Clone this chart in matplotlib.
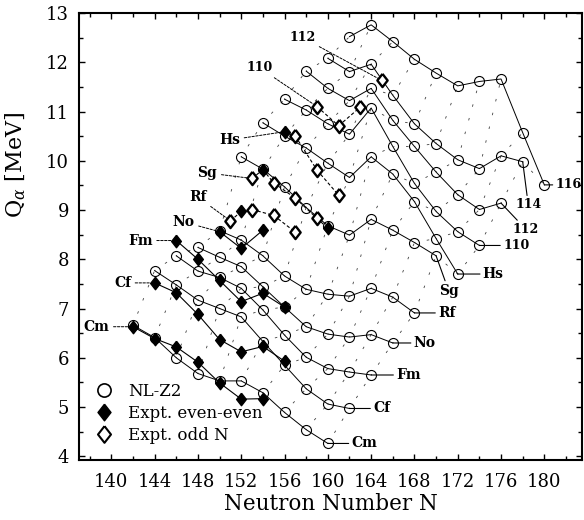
"""Alpha-decay Q values of heavy and superheavy nuclei: NL-Z2 vs experiment."""

import numpy as np
import matplotlib.pyplot as plt
from matplotlib.lines import Line2D

plt.rcParams['font.family'] = 'DejaVu Serif'
plt.rcParams['mathtext.fontset'] = 'dejavuserif'

# ── NL-Z2 Q_alpha (MeV), even N from the first N in steps of 2 ──
names = ['Cm', 'Cf', 'Fm', 'No', 'Rf', 'Sg', 'Hs', '110', '112', '114', '116']
z_list = [96, 98, 100, 102, 104, 106, 108, 110, 112, 114, 116]
n_first = [142, 144, 146, 148, 150, 152, 154, 156, 158, 160, 162]

q_cm = [6.66, 6.41, 6.00, 5.68, 5.53, 5.53, 5.29, 4.89, 4.54, 4.26]
q_cf = [7.77, 7.48, 7.17, 7.00, 6.83, 6.33, 5.85, 5.37, 5.06, 4.97]
q_fm = [8.07, 7.76, 7.63, 7.41, 6.97, 6.46, 6.01, 5.78, 5.71, 5.65]
q_no = [8.24, 8.04, 7.85, 7.44, 7.03, 6.63, 6.48, 6.42, 6.47, 6.30]
q_rf = [8.58, 8.39, 8.07, 7.66, 7.39, 7.29, 7.25, 7.41, 7.23, 6.91]
q_sg = [10.08, 9.83, 9.47, 9.05, 8.68, 8.49, 8.81, 8.59, 8.34, 8.07]
q_hs = [10.77, 10.50, 10.26, 9.95, 9.66, 10.08, 9.73, 9.17, 8.42, 7.70]
q_110 = [11.25, 11.03, 10.75, 10.54, 11.07, 10.29, 9.54, 8.97, 8.56, 8.28]
q_112 = [11.82, 11.47, 11.22, 11.47, 10.82, 10.29, 9.77, 9.31, 9.01, 9.14]
q_114 = [12.08, 11.81, 11.96, 11.33, 10.75, 10.35, 10.02, 9.84, 10.10, 9.98]
q_116 = [12.52, 12.76, 12.42, 12.06, 11.78, 11.52, 11.61, 11.66, 10.57, 9.51]
q_nlz2 = [q_cm, q_cf, q_fm, q_no, q_rf, q_sg, q_hs, q_110, q_112, q_114, q_116]

# ── Experiment, even-even ──
ee_z = [96, 96, 96, 96, 96, 96, 96,
        98, 98, 98, 98, 98, 98, 98,
        100, 100, 100, 100, 100, 100,
        102, 102, 102, 104, 106, 106, 108]
ee_n = [142, 144, 146, 148, 150, 152, 154,
        144, 146, 148, 150, 152, 154, 156,
        146, 148, 150, 152, 154, 156,
        150, 152, 154, 152, 154, 160, 156]
ee_q = [6.63, 6.39, 6.22, 5.91, 5.49, 5.16, 5.17,
        7.52, 7.32, 6.88, 6.37, 6.12, 6.23, 5.93,
        8.38, 8.00, 7.57, 7.14, 7.31, 7.03,
        8.56, 8.22, 8.59, 8.97, 9.82, 8.63, 10.59]

# ── Experiment, odd N ──
odd_z = [104, 104, 104, 104, 106, 106, 106, 106, 108, 108, 108, 110, 110, 110, 112]
odd_n = [151, 153, 155, 157, 153, 155, 157, 159, 157, 159, 161, 159, 161, 163, 165]
odd_q = [8.78, 9.01, 8.89, 8.55, 9.64, 9.55, 9.24, 8.83,
         10.50, 9.81, 9.30, 11.10, 10.71, 11.09, 11.63]

fig, ax = plt.subplots(figsize=(5.84, 5.2), dpi=100)
fig.subplots_adjust(left=0.135, right=0.997, bottom=0.115, top=0.975)

# NL-Z2 lookup for the alpha-decay (Z,N) -> (Z+2,N+2) links
nl = {}
for z, n0, q in zip(z_list, n_first, q_nlz2):
    for i, qi in enumerate(q):
        nl[(z, n0 + 2 * i)] = qi

for (z, n), q in nl.items():
    if (z + 2, n + 2) in nl:
        ax.plot([n, n + 2], [q, nl[(z + 2, n + 2)]], color='0.25', lw=0.6,
                ls=(2, (3, 14)), zorder=1)

for z, n0, q in zip(z_list, n_first, q_nlz2):
    n = n0 + 2 * np.arange(len(q))
    ax.plot(n, q, '-', color='k', lw=0.7, zorder=2)
    ax.plot(n, q, 'o', ms=7.2, mfc='none', mec='k', mew=0.8, zorder=3)

# experimental points joined per element
diamond = [(0, 1), (0.78, 0), (0, -1), (-0.78, 0), (0, 1)]
exp_z = np.array(ee_z + odd_z)
exp_n = np.array(ee_n + odd_n)
exp_q = np.array(ee_q + odd_q)
for z in sorted(set(exp_z)):
    sel = exp_z == z
    order = np.argsort(exp_n[sel])
    n, q = exp_n[sel][order], exp_q[sel][order]
    for i in range(len(n) - 1):
        solid = n[i] % 2 == 0 and n[i + 1] - n[i] == 2
        ax.plot(n[i:i + 2], q[i:i + 2], color='k', lw=0.8,
                ls='-' if solid else (0, (3, 2)), zorder=4)

ax.plot(ee_n, ee_q, ls='none', marker=diamond, ms=9, mfc='k', mec='k', zorder=5)
ax.plot(odd_n, odd_q, ls='none', marker=diamond, ms=9.5, mfc='white', mec='k',
        mew=1.7, zorder=5)

# right-hand labels at the end of each NL-Z2 chain
end_offsets = {'Cm': (17, 0), 'Cf': (17, 0), 'Fm': (18, 0), 'No': (15, 0),
               'Rf': (17, 0), 'Sg': (9, -25), 'Hs': (18, 0), '110': (17, 0),
               '112': (18, -19), '114': (4, -31), '116': (8, 0)}
for name, n0, q in zip(names, n_first, q_nlz2):
    dx, dy = end_offsets[name]
    ha = 'left' if dy == 0 else 'center'
    ax.annotate(name, xy=(n0 + 2 * (len(q) - 1), q[-1]), xytext=(dx, dy),
                textcoords='offset points', ha=ha, va='center',
                fontsize=9 if name.isdigit() else 10, fontweight='bold',
                arrowprops=dict(arrowstyle='-', lw=0.8, color='k',
                                shrinkA=0, shrinkB=0))

# left-hand labels pointing to the first measured isotope
start_offsets = {'Cm': (142, 6.63, -17, 0), 'Cf': (144, 7.52, -17, 0),
                 'Fm': (146, 8.38, -17, 0), 'No': (150, 8.56, -18, 7),
                 'Rf': (151, 8.78, -17, 17), 'Sg': (153, 9.64, -25, 4),
                 'Hs': (156, 10.59, -32, -6), '110': (159, 11.10, -32, 28),
                 '112': (165, 11.63, -48, 31)}
for name, (n, q, dx, dy) in start_offsets.items():
    ax.annotate(name, xy=(n, q), xytext=(dx, dy), textcoords='offset points',
                ha='right', va='center', fontweight='bold',
                fontsize=9 if name.isdigit() else 10,
                arrowprops=dict(arrowstyle='-', lw=0.7, ls=(0, (2.5, 1.5)),
                                color='k', shrinkA=1, shrinkB=3))

handles = [
    Line2D([], [], ls='none', marker='o', ms=9.5, mfc='none', mec='k', mew=1.2),
    Line2D([], [], ls='none', marker=diamond, ms=12, mfc='k', mec='k'),
    Line2D([], [], ls='none', marker=diamond, ms=12, mfc='white', mec='k', mew=1.5),
]
ax.legend(handles, ['NL-Z2', 'Expt. even-even', 'Expt. odd N'], loc='lower left',
          frameon=False, fontsize=12, handlelength=1.0, handletextpad=0.95,
          labelspacing=0.3, borderaxespad=0.7, borderpad=0.3)

ax.set_xlim(137, 183.5)
ax.set_ylim(3.92, 13.0)
ax.set_xticks(range(140, 181, 4))
ax.set_xticks(range(138, 184, 2), minor=True)
ax.set_yticks(range(4, 14))
ax.set_yticks(np.arange(4, 13.01, 0.5), minor=True)
ax.tick_params(which='both', direction='in', top=True, right=True, width=1)
ax.tick_params(which='major', length=4.5, labelsize=13)
ax.tick_params(axis='x', which='major', pad=9)
ax.tick_params(axis='y', which='major', pad=7)
ax.tick_params(which='minor', length=3)
for s in ax.spines.values():
    s.set_linewidth(1.5)

ax.set_xlabel('Neutron Number N', fontsize=15.5, labelpad=2)
ax.set_ylabel(r'Q$_\alpha$ [MeV]', fontsize=16)
ax.yaxis.set_label_coords(-0.10, 0.66)

plt.savefig('out.png', dpi=100)
